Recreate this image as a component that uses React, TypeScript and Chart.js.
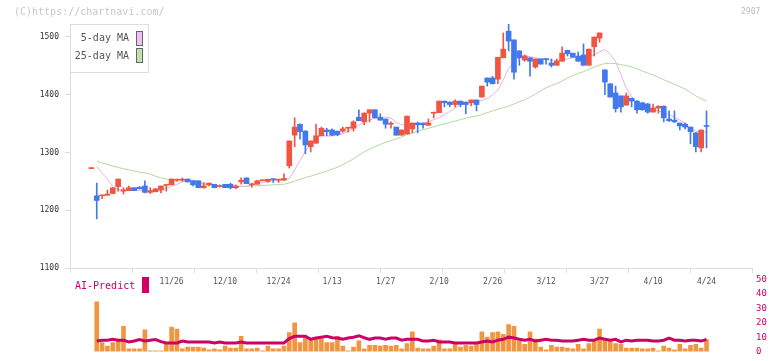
import React, { useEffect, useRef } from "react";
import { Chart, registerables } from "chart.js";

Chart.register(...registerables);

// ---- price data (trading-day index 0..115) ----
const openP = [1272, 1225, 1225, 1226, 1229, 1241, 1233, 1234, 1239, 1240, 1242, 1231, 1232, 1235, 1243, 1244, 1252, 1252, 1254, 1251, 1251, 1239, 1244, 1245, 1241, 1245, 1245, 1239, 1249, 1256, 1244, 1245, 1251, 1250, 1254, 1252, 1252, 1277, 1330, 1349, 1337, 1310, 1316, 1329, 1339, 1339, 1337, 1337, 1342, 1342, 1361, 1353, 1368, 1374, 1361, 1358, 1349, 1344, 1330, 1332, 1341, 1351, 1351, 1347, 1368, 1369, 1389, 1387, 1383, 1389, 1387, 1386, 1391, 1396, 1429, 1429, 1427, 1464, 1510, 1495, 1476, 1460, 1464, 1448, 1462, 1462, 1455, 1451, 1458, 1477, 1472, 1467, 1469, 1451, 1483, 1498, 1443, 1419, 1403, 1398, 1382, 1394, 1389, 1386, 1384, 1370, 1377, 1380, 1358, 1356, 1351, 1349, 1344, 1334, 1308, 1346];
const highP = [1273, 1247, 1226, 1235, 1239, 1254, 1239, 1242, 1239, 1241, 1251, 1239, 1238, 1242, 1244, 1254, 1254, 1256, 1254, 1251, 1251, 1248, 1247, 1245, 1244, 1245, 1247, 1244, 1256, 1256, 1247, 1252, 1252, 1254, 1254, 1254, 1263, 1320, 1360, 1349, 1338, 1320, 1349, 1344, 1342, 1341, 1337, 1344, 1343, 1355, 1374, 1369, 1374, 1374, 1367, 1358, 1353, 1344, 1339, 1363, 1351, 1353, 1351, 1358, 1370, 1389, 1389, 1388, 1391, 1389, 1388, 1391, 1391, 1415, 1429, 1432, 1465, 1507, 1522, 1495, 1476, 1469, 1464, 1462, 1462, 1462, 1462, 1462, 1483, 1477, 1472, 1474, 1488, 1479, 1500, 1507, 1443, 1419, 1415, 1398, 1403, 1394, 1390, 1387, 1385, 1384, 1381, 1381, 1372, 1372, 1351, 1351, 1344, 1334, 1339, 1372];
const lowP = [1272, 1185, 1220, 1226, 1229, 1233, 1228, 1234, 1234, 1237, 1230, 1229, 1232, 1230, 1233, 1244, 1250, 1250, 1249, 1242, 1239, 1238, 1242, 1239, 1240, 1239, 1237, 1237, 1245, 1246, 1240, 1245, 1251, 1248, 1248, 1248, 1252, 1273, 1310, 1323, 1298, 1301, 1316, 1329, 1329, 1329, 1329, 1335, 1335, 1337, 1355, 1348, 1353, 1360, 1356, 1342, 1342, 1330, 1330, 1332, 1334, 1334, 1342, 1347, 1360, 1369, 1379, 1379, 1379, 1379, 1367, 1381, 1372, 1396, 1415, 1419, 1419, 1464, 1476, 1427, 1451, 1458, 1432, 1446, 1453, 1453, 1448, 1451, 1458, 1467, 1465, 1458, 1451, 1451, 1467, 1491, 1400, 1396, 1370, 1370, 1382, 1379, 1368, 1373, 1368, 1370, 1368, 1353, 1354, 1352, 1339, 1341, 1315, 1301, 1301, 1308];
const closeP = [1273, 1217, 1226, 1228, 1239, 1254, 1235, 1239, 1234, 1237, 1231, 1234, 1237, 1242, 1244, 1254, 1253, 1253, 1249, 1244, 1239, 1242, 1247, 1239, 1242, 1239, 1239, 1242, 1252, 1246, 1245, 1251, 1252, 1253.5, 1253, 1253, 1255, 1320, 1344, 1336, 1313, 1320, 1329, 1342, 1336, 1330, 1331, 1341, 1343, 1353, 1355, 1368, 1374, 1360, 1356, 1349, 1350, 1330, 1339, 1363, 1351, 1348, 1348, 1351, 1369, 1389, 1386, 1383, 1389, 1383, 1383, 1391, 1383, 1415, 1422, 1419, 1465, 1479, 1493, 1439, 1464, 1467, 1458, 1462, 1453, 1461, 1451, 1458, 1472, 1471, 1465, 1458, 1451, 1479, 1500, 1507, 1422, 1396, 1376, 1379, 1398, 1389, 1374, 1374, 1370, 1377, 1380, 1360, 1355, 1353, 1346, 1344, 1336, 1310, 1339, 1345];

// ---- moving averages (index 0 not drawn) ----
const ma5 = [null, 1276, 1264, 1254, 1241, 1236, 1235, 1234.5, 1234.5, 1234, 1233, 1233, 1234, 1236, 1238, 1241, 1245, 1249, 1252, 1252, 1250, 1246, 1244.5, 1243, 1242, 1241.5, 1241, 1241, 1241, 1241.5, 1244, 1246.5, 1248, 1250, 1251.5, 1252.5, 1253.5, 1255, 1270, 1286, 1302, 1316, 1325.5, 1329, 1328.6, 1328.6, 1330, 1332.5, 1337, 1341.5, 1347, 1352, 1356, 1359, 1360.5, 1361, 1359.5, 1352, 1348, 1348, 1348.5, 1349, 1350.5, 1352.5, 1357, 1360.5, 1365.5, 1371, 1377, 1382.5, 1386, 1388, 1388.5, 1390, 1393, 1400, 1408, 1426, 1445, 1458, 1465, 1468, 1466, 1464, 1462, 1461, 1460, 1459, 1460, 1462, 1464, 1465, 1465.5, 1467, 1469, 1474, 1478.5, 1470, 1457, 1435, 1411, 1397, 1384, 1379, 1377, 1375, 1372, 1369, 1365.5, 1361, 1356, 1351, 1342, 1337, 1335, 1335];
const ma25 = [null, 1285, 1282, 1279, 1276.5, 1274, 1272, 1270, 1268, 1266, 1264.5, 1262.5, 1259, 1256, 1254, 1253.5, 1253, 1252.5, 1252, 1250, 1247, 1245, 1243, 1242, 1241.5, 1241.5, 1241.5, 1241.5, 1241.5, 1241.5, 1242, 1242.5, 1243, 1243.5, 1244, 1244.5, 1245, 1247.5, 1250.5, 1253.5, 1256.5, 1259, 1262, 1265, 1268, 1271, 1274.5, 1279, 1284, 1289, 1295, 1301, 1305.5, 1310, 1314, 1317.5, 1320.5, 1323.5, 1327, 1331, 1334, 1337, 1339.5, 1342, 1344.5, 1347, 1349.5, 1352, 1354.5, 1357, 1359.5, 1361.5, 1363, 1365.5, 1369, 1372, 1375, 1377.5, 1380.5, 1384, 1388, 1391.5, 1396, 1401, 1407, 1412, 1416, 1419.5, 1424, 1429, 1433.5, 1437, 1440, 1444, 1448, 1451.5, 1454, 1454.5, 1454, 1452, 1450.5, 1448, 1445, 1441, 1437.5, 1434.5, 1430, 1426, 1422, 1418, 1414, 1410, 1404, 1398, 1393, 1389];

// ---- lower panel ----
const volume = [null, 34.4, 6.25, 3.75, 6.25, 7.5, 17.5, 1.9, 1.9, 1.9, 15, 0.6, 0.6, 0.5, 6.25, 16.9, 15.6, 1.9, 3.1, 3.1, 3.1, 2.5, 1.25, 1.9, 1.25, 3.75, 2.5, 2.5, 10.6, 1.9, 1.9, 2.5, 0.6, 3.75, 1.9, 1.9, 3.75, 13.1, 20, 6.25, 10, 7.5, 8.75, 8.75, 6.25, 6.25, 10.6, 3.75, 0.6, 3.1, 7.5, 1.9, 4.4, 4.4, 3.75, 4.4, 3.75, 4.4, 1.9, 5.6, 13.75, 2.5, 1.9, 1.9, 3.75, 8.1, 1.9, 1.9, 5, 3.1, 4.4, 3.75, 5.6, 13.75, 10, 13.1, 13.75, 11.9, 18.75, 17.5, 7.5, 5, 13.75, 8.75, 3.1, 1.25, 4.4, 3.1, 3.1, 2.5, 1.9, 5, 1.9, 5.6, 7.5, 15.6, 8.1, 7.5, 5.6, 5, 2.5, 2.5, 2.5, 1.9, 1.9, 2.5, 0.6, 3.75, 2.5, 1.25, 5, 1.9, 4.4, 5, 2.5, 8.1];
const aiPredict = [null, 7.3, 7.9, 7.9, 8.5, 7.9, 7.9, 6.7, 7.3, 8.3, 7.3, 7.9, 8.3, 6.9, 6, 6, 6, 7.3, 6.7, 6.7, 6.7, 6.7, 6.7, 6, 6.7, 6, 6, 6, 6.7, 6, 6, 6, 6, 6, 6, 6, 6, 9, 10.6, 10.6, 10.6, 8.5, 9.4, 10, 10.6, 9.6, 9.4, 8.5, 9.4, 10, 11, 9.6, 8.5, 9.4, 9.4, 8.5, 9.4, 9.4, 7.9, 8.5, 8.5, 8.5, 7.3, 7.3, 7.9, 6.7, 6.7, 6.7, 6, 6, 6, 6, 6, 6.7, 7.3, 6.7, 7.9, 8.5, 10, 9.4, 8.5, 7.9, 8.5, 7.3, 7.9, 8.5, 7.9, 7.9, 7.3, 7.3, 7.3, 7.9, 8.5, 7.9, 7.9, 9.4, 8.5, 7.9, 8.5, 6.7, 7.9, 7.3, 7.9, 7.9, 7.9, 7.3, 7.3, 7.9, 9.4, 7.9, 7.9, 7.3, 7.9, 7.9, 7.3, 8.5];

// ---- axis labels ----
const dateLabels = ["11/26", "12/10", "12/24", "1/13", "1/27", "2/10", "2/26", "3/12", "3/27", "4/10", "4/24"];
const dateIndex = [15, 25, 35, 45, 55, 65, 75, 85, 95, 105, 115];
const priceTicks = [1100, 1200, 1300, 1400, 1500];
const volumeTicks = [0, 10, 20, 30, 40, 50];

const X_MIN = -4;
const X_MAX = 123.5;
const UP = "#ef5641";
const DOWN = "#4279ec";
const MONO = "'DejaVu Sans Mono', 'Liberation Mono', monospace";
const AXIS = "#dedede";

export default function App() {
  const priceRef = useRef<HTMLCanvasElement>(null);
  const volRef = useRef<HTMLCanvasElement>(null);

  useEffect(() => {
    const idx = openP.map((_, i) => i);
    const colors = idx.map((i) => (closeP[i] >= openP[i] ? UP : DOWN));

    const price = new Chart(priceRef.current!, {
      type: "bar",
      data: {
        datasets: [
          {
            type: "bar",
            label: "wick",
            data: idx.map((i) => ({ x: i, y: [lowP[i], highP[i]] })) as any,
            backgroundColor: colors,
            barThickness: 1,
            minBarLength: 1,
            grouped: false,
            order: 0,
          } as any,
          {
            type: "bar",
            label: "body",
            data: idx.map((i) => ({ x: i, y: [openP[i], closeP[i]] })) as any,
            backgroundColor: colors,
            barThickness: 5,
            minBarLength: 1,
            grouped: false,
            order: 0,
          } as any,
          {
            type: "line",
            label: "5-day MA",
            data: ma5.map((v, i) => ({ x: i, y: v })) as any,
            borderColor: "#e4b2e4",
            borderWidth: 1,
            pointRadius: 0,
            tension: 0,
            order: 1,
          } as any,
          {
            type: "line",
            label: "25-day MA",
            data: ma25.map((v, i) => ({ x: i, y: v })) as any,
            borderColor: "#b2d9a0",
            borderWidth: 1,
            pointRadius: 0,
            tension: 0,
            order: 1,
          } as any,
        ],
      },
      options: {
        animation: false,
        responsive: false,
        maintainAspectRatio: false,
        devicePixelRatio: 1,
        layout: { padding: { top: 24, right: 20, left: 0, bottom: 0 } },
        plugins: { legend: { display: false }, tooltip: { enabled: false } },
        scales: {
          x: {
            type: "linear",
            position: "bottom",
            weight: 0,
            offset: false,
            min: X_MIN,
            max: X_MAX,
            afterBuildTicks: (s: any) => {
              s.ticks = Array.from({ length: 12 }, (_, k) => ({ value: X_MIN + (k * (X_MAX - X_MIN)) / 11 }));
            },
            ticks: { display: false },
            grid: { offset: false, drawOnChartArea: false, tickLength: 5, color: AXIS },
            border: { color: AXIS },
            afterFit: (s: any) => {
              s.height = 5;
            },
          },
          x2: {
            type: "linear",
            position: "bottom",
            weight: 1,
            offset: false,
            min: X_MIN,
            max: X_MAX,
            afterBuildTicks: (s: any) => {
              s.ticks = dateIndex.map((v) => ({ value: v }));
            },
            ticks: {
              autoSkip: false,
              maxRotation: 0,
              padding: 4,
              color: "#555",
              font: { family: MONO, size: 8 },
              callback: (v: any) => {
                const k = dateIndex.indexOf(Math.round(Number(v)));
                return k >= 0 ? dateLabels[k] : "";
              },
            },
            grid: { display: false, drawTicks: false, offset: false },
            border: { display: false },
            afterFit: (s: any) => {
              s.height = 22;
            },
          },
          y: {
            type: "linear",
            position: "left",
            min: 1100,
            max: 1522.5,
            afterBuildTicks: (s: any) => {
              s.ticks = priceTicks.map((v) => ({ value: v }));
            },
            ticks: {
              padding: 6,
              color: "#333",
              font: { family: MONO, size: 8 },
              callback: (v: any) => String(v),
            },
            grid: { drawOnChartArea: false, tickLength: 5, color: AXIS },
            border: { color: AXIS },
            afterFit: (s: any) => {
              s.width = 70;
            },
          },
        },
      } as any,
    });

    const vol = new Chart(volRef.current!, {
      type: "bar",
      data: {
        datasets: [
          {
            type: "line",
            label: "AI-Predict",
            data: aiPredict.map((v, i) => ({ x: i, y: v })) as any,
            borderColor: "#cc0066",
            borderWidth: 3,
            pointRadius: 0,
            tension: 0,
            order: 0,
          } as any,
          {
            type: "bar",
            label: "volume",
            data: volume.map((v, i) => ({ x: i, y: v })) as any,
            backgroundColor: "#f19640",
            barThickness: 4,
            grouped: false,
            order: 1,
          } as any,
        ],
      },
      options: {
        animation: false,
        responsive: false,
        maintainAspectRatio: false,
        devicePixelRatio: 1,
        layout: { padding: { top: 6, right: 0, left: 70, bottom: 5 } },
        plugins: { legend: { display: false }, tooltip: { enabled: false } },
        scales: {
          x: { type: "linear", min: X_MIN, max: X_MAX, offset: false, grid: { offset: false }, display: false },
          y: {
            type: "linear",
            position: "right",
            min: 0,
            max: 50,
            afterBuildTicks: (s: any) => {
              s.ticks = volumeTicks.map((v) => ({ value: v }));
            },
            ticks: {
              padding: 4,
              color: "#cc0066",
              font: { family: MONO, size: 9 },
              callback: (v: any) => String(v),
            },
            grid: { display: false, drawTicks: false },
            border: { display: false },
            afterFit: (s: any) => {
              s.width = 20;
            },
          },
        },
      } as any,
    });

    return () => {
      price.destroy();
      vol.destroy();
    };
  }, []);

  const txt = (extra: React.CSSProperties): React.CSSProperties => ({
    position: "absolute",
    fontFamily: MONO,
    whiteSpace: "nowrap",
    ...extra,
  });

  return (
    <div style={{ position: "fixed", left: 0, top: 0, width: 772, height: 361, background: "#fff", overflow: "hidden" }}>
      <canvas ref={priceRef} width={772} height={295} style={{ position: "absolute", left: 0, top: 0, width: 772, height: 295 }} />
      <canvas ref={volRef} width={772} height={91} style={{ position: "absolute", left: 0, top: 270, width: 772, height: 91 }} />

      <div style={txt({ left: 14, top: 6, fontSize: 10, lineHeight: "12px", color: "#c8c8c8" })}>(C)https://chartnavi.com/</div>
      <div style={txt({ left: 741, top: 7, fontSize: 8, lineHeight: "10px", color: "#bbb" })}>2907</div>

      <div style={{ position: "absolute", left: 70, top: 24, width: 77, height: 47, border: "1px solid #dedede", background: "#fff" }} />
      <div style={txt({ left: 0, width: 129, textAlign: "right", top: 32, fontSize: 10, lineHeight: "12px", color: "#555" })}>5-day MA</div>
      <div style={{ position: "absolute", left: 136, top: 31, width: 5, height: 13, border: "1px solid #666", background: "#f0c0f0" }} />
      <div style={txt({ left: 0, width: 129, textAlign: "right", top: 50, fontSize: 10, lineHeight: "12px", color: "#555" })}>25-day MA</div>
      <div style={{ position: "absolute", left: 136, top: 48, width: 5, height: 13, border: "1px solid #666", background: "#c0e0b0" }} />

      <div style={txt({ left: 75, top: 280, fontSize: 10, lineHeight: "12px", color: "#cc0066" })}>AI-Predict</div>
      <div style={{ position: "absolute", left: 142, top: 277, width: 7, height: 16, background: "#cc0066" }} />
    </div>
  );
}
